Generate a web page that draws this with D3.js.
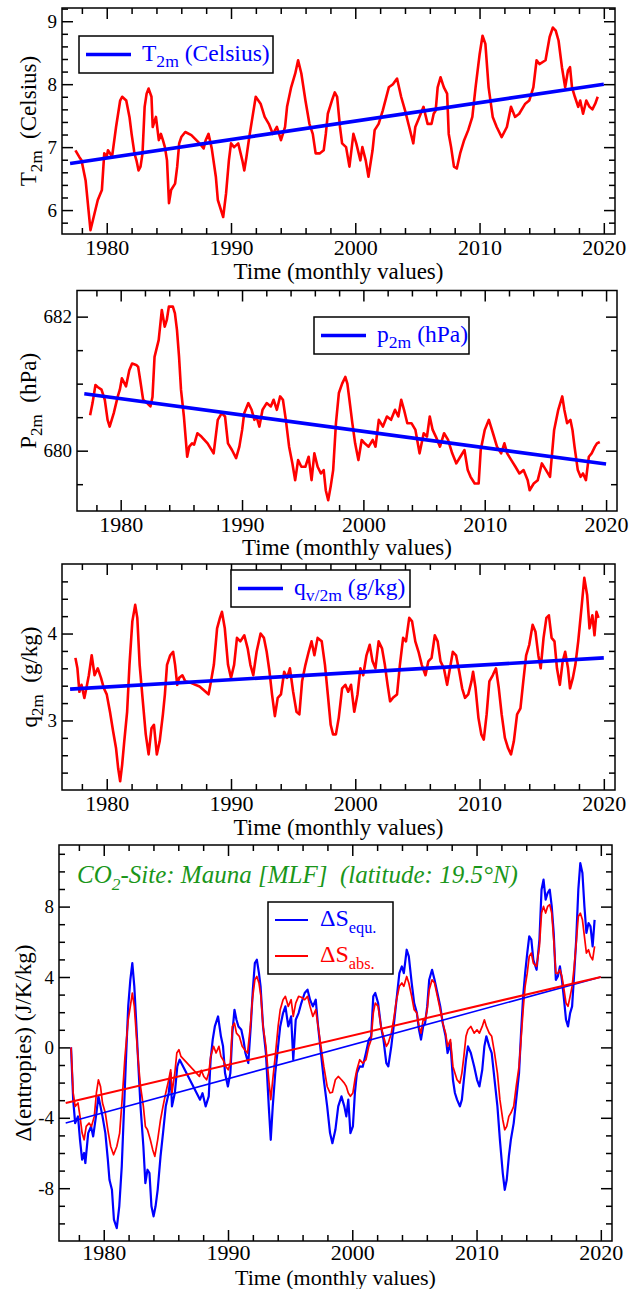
<!DOCTYPE html>
<html>
<head>
<meta charset="utf-8">
<script src="https://cdn.jsdelivr.net/npm/d3@7"></script>
<style>
  body { margin: 0; background: #fff; }
  text { font-family: "Liberation Serif", "Times New Roman", serif; white-space: pre; }
</style>
</head>
<body>
<svg id="chart" width="639" height="1289"></svg>
<script>
// ---- data (year, value) ----
var tempSeries = [[1977.48,6.95],[1977.8,6.84],[1977.97,6.79],[1978.3,6.47],[1978.69,5.68],[1979.28,6.16],[1979.61,6.32],[1979.8,6.9],[1980.0,6.85],[1980.1,6.95],[1980.43,6.85],[1980.75,7.32],[1981.08,7.74],[1981.24,7.8],[1981.57,7.74],[1981.83,7.48],[1982.0,7.21],[1982.23,6.9],[1982.39,6.79],[1982.56,6.63],[1982.72,6.69],[1982.88,6.9],[1983.05,7.64],[1983.21,7.85],[1983.37,7.93],[1983.6,7.8],[1983.7,7.32],[1983.96,7.48],[1984.19,7.11],[1984.36,7.21],[1984.52,7.11],[1984.68,7.0],[1984.85,6.79],[1985.01,6.11],[1985.18,6.32],[1985.5,6.42],[1985.67,6.69],[1985.83,7.06],[1986.0,7.16],[1986.32,7.24],[1986.81,7.19],[1987.47,7.06],[1987.8,6.98],[1987.96,7.11],[1988.19,7.21],[1988.45,6.98],[1988.78,6.53],[1988.94,6.16],[1989.27,5.95],[1989.37,5.89],[1989.6,6.26],[1989.83,6.79],[1990.0,7.06],[1990.25,7.0],[1990.58,7.06],[1990.91,6.79],[1991.07,6.63],[1991.24,6.84],[1991.47,7.16],[1991.73,7.48],[1991.99,7.8],[1992.38,7.69],[1992.71,7.48],[1993.04,7.37],[1993.37,7.21],[1993.69,7.32],[1994.02,7.11],[1994.35,7.32],[1994.51,7.64],[1994.84,7.95],[1995.17,8.17],[1995.4,8.38],[1995.66,8.17],[1995.99,7.74],[1996.31,7.37],[1996.58,7.21],[1996.81,6.9],[1997.13,6.9],[1997.46,6.95],[1997.63,7.21],[1997.79,7.53],[1998.12,7.74],[1998.35,7.87],[1998.54,7.8],[1998.77,7.32],[1998.94,7.06],[1999.26,7.0],[1999.53,6.69],[1999.85,7.21],[2000.08,7.06],[2000.41,6.79],[2000.57,7.0],[2000.84,6.79],[2001.06,6.53],[2001.39,6.95],[2001.56,7.27],[2001.88,7.37],[2002.21,7.58],[2002.7,7.95],[2003.03,8.0],[2003.36,8.09],[2003.69,7.8],[2004.01,7.58],[2004.34,7.32],[2004.67,7.06],[2004.83,7.32],[2005.16,7.48],[2005.49,7.64],[2005.82,7.37],[2006.14,7.37],[2006.31,7.53],[2006.47,7.58],[2006.63,7.95],[2006.86,8.11],[2007.13,7.95],[2007.39,7.85],[2007.52,7.21],[2007.71,7.0],[2007.94,6.69],[2008.17,6.66],[2008.44,6.9],[2008.76,7.11],[2009.09,7.27],[2009.42,7.48],[2009.68,7.95],[2010.01,8.48],[2010.24,8.77],[2010.47,8.64],[2010.73,7.95],[2011.06,7.48],[2011.38,7.32],[2011.78,7.16],[2012.2,7.32],[2012.53,7.64],[2012.86,7.48],[2013.19,7.53],[2013.68,7.69],[2014.0,7.74],[2014.33,7.95],[2014.59,8.38],[2014.82,8.32],[2015.31,8.38],[2015.64,8.75],[2015.9,8.9],[2016.13,8.85],[2016.36,8.69],[2016.63,8.27],[2016.89,7.95],[2017.12,8.22],[2017.28,8.27],[2017.44,7.95],[2017.67,7.8],[2017.94,7.64],[2018.1,7.74],[2018.33,7.53],[2018.59,7.74],[2018.85,7.64],[2019.08,7.6],[2019.31,7.69],[2019.51,7.8]];
var tempTrend = [[1977.05,6.74],[2020.0,8.0]];

var presSeries = [[1977.48,680.53],[1977.68,680.71],[1977.92,680.98],[1978.1,680.95],[1978.42,680.91],[1978.69,680.76],[1978.92,680.46],[1979.09,680.36],[1979.43,680.56],[1979.76,680.81],[1979.93,680.91],[1980.1,681.08],[1980.44,680.96],[1980.71,681.2],[1980.94,681.3],[1981.28,681.28],[1981.44,681.25],[1981.61,681.05],[1981.85,680.76],[1982.18,680.71],[1982.45,680.66],[1982.62,680.8],[1982.79,681.4],[1983.13,681.65],[1983.39,682.1],[1983.63,681.85],[1983.8,681.95],[1983.97,682.15],[1984.3,682.15],[1984.47,682.05],[1984.64,681.8],[1984.81,681.4],[1984.97,680.91],[1985.21,680.51],[1985.48,679.91],[1985.65,680.06],[1985.88,680.11],[1986.05,680.09],[1986.32,680.26],[1986.65,680.21],[1987.16,680.11],[1987.66,679.96],[1987.83,680.21],[1988.0,680.46],[1988.33,680.56],[1988.6,680.51],[1988.84,680.11],[1989.17,680.01],[1989.51,679.89],[1989.78,680.06],[1990.01,680.31],[1990.18,680.56],[1990.52,680.71],[1990.79,680.61],[1991.02,680.46],[1991.19,680.51],[1991.43,680.36],[1991.69,680.61],[1992.03,680.71],[1992.37,680.66],[1992.6,680.76],[1992.87,680.61],[1993.14,680.81],[1993.37,680.76],[1993.61,680.46],[1993.88,680.06],[1994.15,679.81],[1994.38,679.56],[1994.62,679.86],[1994.89,679.76],[1995.22,679.76],[1995.49,679.91],[1995.73,679.56],[1995.96,679.96],[1996.23,679.76],[1996.5,679.66],[1996.73,679.71],[1996.9,679.41],[1997.1,679.26],[1997.3,679.46],[1997.51,679.71],[1997.74,680.41],[1997.98,680.86],[1998.25,681.0],[1998.51,681.1],[1998.68,681.0],[1998.85,680.76],[1999.09,680.41],[1999.32,680.11],[1999.59,679.86],[1999.86,680.16],[2000.1,680.11],[2000.43,680.06],[2000.77,680.16],[2001.0,680.06],[2001.27,680.46],[2001.61,680.36],[2001.94,680.51],[2002.28,680.46],[2002.61,680.61],[2002.88,680.51],[2003.12,680.76],[2003.35,680.61],[2003.62,680.41],[2003.96,680.41],[2004.29,680.31],[2004.63,679.96],[2004.97,680.26],[2005.24,680.21],[2005.47,680.51],[2005.71,680.31],[2005.97,680.21],[2006.31,680.06],[2006.65,680.26],[2006.98,680.16],[2007.32,679.96],[2007.66,679.81],[2007.99,679.91],[2008.33,680.01],[2008.6,679.71],[2008.83,679.61],[2009.17,679.51],[2009.5,679.51],[2009.67,680.01],[2010.0,680.31],[2010.34,680.46],[2010.68,680.26],[2011.01,680.06],[2011.35,679.96],[2011.62,680.11],[2011.85,679.96],[2012.19,679.86],[2012.53,679.76],[2012.86,679.66],[2013.2,679.71],[2013.54,679.56],[2013.7,679.41],[2014.04,679.51],[2014.37,679.56],[2014.71,679.81],[2015.05,679.71],[2015.38,679.61],[2015.72,680.31],[2016.06,680.61],[2016.39,680.81],[2016.56,680.61],[2016.79,680.41],[2017.06,680.46],[2017.23,680.31],[2017.4,680.06],[2017.67,679.71],[2017.9,679.61],[2018.1,679.66],[2018.34,679.56],[2018.58,679.91],[2018.81,679.96],[2019.08,680.06],[2019.25,680.11],[2019.48,680.13]];
var presTrend = [[1977.0,680.85],[2020.0,679.80]];

var humSeries = [[1977.48,3.72],[1977.64,3.6],[1977.8,3.33],[1977.97,3.41],[1978.2,3.26],[1978.36,3.37],[1978.56,3.52],[1978.79,3.75],[1979.02,3.52],[1979.28,3.6],[1979.54,3.49],[1979.77,3.37],[1980.0,3.3],[1980.26,3.1],[1980.52,2.87],[1980.75,2.68],[1980.92,2.45],[1981.08,2.3],[1981.24,2.49],[1981.41,2.76],[1981.64,3.1],[1981.83,3.64],[1982.06,4.14],[1982.29,4.33],[1982.46,4.18],[1982.65,3.64],[1982.88,3.26],[1983.14,2.84],[1983.37,2.61],[1983.6,2.91],[1983.8,2.95],[1984.03,2.61],[1984.26,2.76],[1984.52,3.07],[1984.68,3.3],[1984.85,3.64],[1985.11,3.75],[1985.34,3.79],[1985.5,3.64],[1985.67,3.41],[1985.83,3.49],[1986.09,3.52],[1986.32,3.45],[1986.81,3.43],[1987.47,3.39],[1987.96,3.33],[1988.19,3.3],[1988.39,3.45],[1988.62,3.64],[1988.88,4.06],[1989.11,4.18],[1989.27,4.25],[1989.5,4.06],[1989.76,3.64],[1990.0,3.49],[1990.25,3.64],[1990.48,3.95],[1990.75,3.91],[1991.07,3.98],[1991.34,3.83],[1991.56,3.64],[1991.79,3.52],[1992.06,3.79],[1992.38,4.0],[1992.65,3.95],[1992.87,3.79],[1993.1,3.56],[1993.3,3.3],[1993.53,3.05],[1993.76,3.26],[1994.02,3.3],[1994.28,3.56],[1994.51,3.49],[1994.74,3.6],[1995.0,3.33],[1995.27,3.1],[1995.5,3.07],[1995.72,3.45],[1995.99,3.64],[1996.25,3.79],[1996.48,3.91],[1996.71,3.75],[1996.97,3.95],[1997.3,3.91],[1997.56,3.64],[1997.79,3.3],[1998.02,2.95],[1998.21,2.84],[1998.44,2.84],[1998.67,3.03],[1998.94,3.37],[1999.2,3.41],[1999.43,3.33],[1999.66,3.41],[1999.92,3.1],[2000.18,3.3],[2000.41,3.6],[2000.64,3.52],[2000.9,3.75],[2001.16,3.87],[2001.39,3.68],[2001.62,3.6],[2001.88,3.91],[2002.15,3.83],[2002.38,3.64],[2002.6,3.41],[2002.8,3.22],[2003.03,3.26],[2003.36,3.3],[2003.59,3.64],[2003.85,3.95],[2004.08,3.91],[2004.34,4.18],[2004.57,4.14],[2004.83,3.91],[2005.09,3.79],[2005.35,3.64],[2005.65,3.52],[2005.88,3.68],[2006.14,3.72],[2006.4,3.98],[2006.63,3.91],[2006.86,3.68],[2007.13,3.6],[2007.39,3.41],[2007.62,3.6],[2007.85,3.79],[2008.11,3.75],[2008.37,3.56],[2008.6,3.37],[2008.83,3.26],[2009.09,3.3],[2009.35,3.45],[2009.48,3.56],[2009.68,3.37],[2009.91,3.03],[2010.14,2.84],[2010.34,2.78],[2010.57,3.07],[2010.79,3.45],[2011.06,3.52],[2011.32,3.6],[2011.55,3.37],[2011.78,3.07],[2012.04,2.8],[2012.3,2.68],[2012.53,2.61],[2012.76,2.76],[2013.02,3.07],[2013.29,3.14],[2013.52,3.45],[2013.75,3.75],[2014.0,3.87],[2014.27,4.1],[2014.5,4.02],[2014.73,3.75],[2014.92,3.6],[2015.15,3.95],[2015.38,4.18],[2015.58,4.21],[2015.8,3.95],[2016.03,3.91],[2016.23,3.6],[2016.46,3.41],[2016.69,3.68],[2016.89,3.79],[2017.12,3.6],[2017.28,3.37],[2017.51,3.49],[2017.71,3.64],[2017.94,3.91],[2018.2,4.29],[2018.43,4.64],[2018.66,4.44],[2018.85,4.06],[2019.08,4.21],[2019.25,3.98],[2019.41,4.25],[2019.57,4.18]];
var humTrend = [[1977.05,3.36],[2020.0,3.72]];

var dsEquSeries = [[1977.37,0],[1977.54,-2.97],[1977.7,-4.3],[1977.93,-3.92],[1978.09,-5.25],[1978.26,-6.38],[1978.42,-6.0],[1978.52,-6.57],[1978.75,-4.87],[1978.98,-4.49],[1979.15,-5.06],[1979.41,-3.73],[1979.57,-2.78],[1979.74,-3.35],[1979.9,-3.92],[1980.13,-4.87],[1980.33,-6.38],[1980.46,-7.52],[1980.66,-8.09],[1980.82,-9.79],[1981.05,-10.27],[1981.25,-9.03],[1981.45,-6.76],[1981.64,-3.35],[1981.81,-0.32],[1981.97,2.33],[1982.14,3.84],[1982.3,4.79],[1982.46,3.47],[1982.63,1.19],[1982.79,-1.08],[1982.96,-3.35],[1983.19,-5.63],[1983.35,-7.71],[1983.52,-6.95],[1983.68,-7.14],[1983.84,-9.03],[1984.01,-9.6],[1984.17,-9.03],[1984.34,-8.09],[1984.57,-6.19],[1984.77,-4.87],[1984.99,-3.35],[1985.23,-2.59],[1985.39,-1.46],[1985.49,-3.35],[1985.72,-2.59],[1985.92,-1.08],[1986.11,-0.7],[1987.75,-2.97],[1987.95,-2.6],[1988.2,-3.35],[1988.45,-2.78],[1988.6,-0.7],[1988.77,0.44],[1988.94,1.19],[1989.2,1.76],[1989.43,0.63],[1989.6,0.06],[1989.76,-1.46],[1989.99,-2.22],[1990.19,-1.46],[1990.35,0.81],[1990.52,2.14],[1990.68,1.57],[1990.84,1.19],[1991.07,1.0],[1991.24,0.44],[1991.4,-0.32],[1991.63,-0.89],[1991.83,1.19],[1992.0,3.28],[1992.16,4.79],[1992.32,4.98],[1992.49,4.22],[1992.62,3.47],[1992.82,1.19],[1993.05,-0.32],[1993.28,-3.35],[1993.44,-5.25],[1993.6,-3.35],[1993.8,-1.46],[1994.03,0.06],[1994.2,1.19],[1994.43,1.95],[1994.62,2.33],[1994.85,1.19],[1995.08,1.76],[1995.25,-0.7],[1995.45,1.57],[1995.68,1.95],[1995.9,2.52],[1996.17,3.09],[1996.4,3.28],[1996.6,2.71],[1996.83,2.33],[1997.06,2.71],[1997.25,1.19],[1997.48,-0.32],[1997.71,-1.84],[1997.98,-3.35],[1998.21,-4.87],[1998.4,-5.44],[1998.64,-4.68],[1998.87,-3.35],[1999.13,-2.78],[1999.36,-3.35],[1999.52,-3.92],[1999.68,-2.97],[1999.85,-4.87],[2000.05,-4.49],[2000.21,-2.59],[2000.37,-1.46],[2000.6,-1.08],[2000.84,-1.1],[2001.1,-0.32],[2001.33,0.44],[2001.52,0.63],[2001.69,2.9],[2001.85,3.09],[2002.08,2.52],[2002.31,1.19],[2002.51,0.44],[2002.74,-0.89],[2002.9,-1.08],[2003.14,0.06],[2003.33,1.19],[2003.56,2.71],[2003.79,4.22],[2003.99,4.6],[2004.15,4.22],[2004.38,5.55],[2004.55,5.17],[2004.78,3.66],[2004.98,2.52],[2005.2,1.95],[2005.37,1.0],[2005.53,0.44],[2005.7,1.19],[2005.86,1.38],[2006.03,2.33],[2006.19,3.84],[2006.42,4.41],[2006.62,3.84],[2006.85,3.09],[2007.08,2.33],[2007.28,1.38],[2007.51,0.63],[2007.67,-0.32],[2007.9,0.25],[2008.1,-1.84],[2008.26,-2.59],[2008.43,-2.97],[2008.66,-3.35],[2008.82,-2.97],[2008.98,-1.84],[2009.15,-0.7],[2009.31,0.06],[2009.54,-0.32],[2009.81,-1.08],[2010.04,-1.84],[2010.23,-2.22],[2010.46,-1.27],[2010.63,0.06],[2010.79,0.63],[2011.02,0.06],[2011.22,-0.32],[2011.45,-1.84],[2011.68,-3.35],[2011.88,-5.25],[2012.11,-7.14],[2012.27,-8.09],[2012.43,-7.52],[2012.6,-6.19],[2012.76,-5.25],[2012.99,-4.3],[2013.19,-2.97],[2013.42,-1.46],[2013.58,0.81],[2013.75,2.9],[2013.91,4.22],[2014.08,5.36],[2014.24,6.31],[2014.41,6.12],[2014.57,4.98],[2014.83,4.41],[2015.06,6.12],[2015.23,8.96],[2015.39,9.53],[2015.56,8.39],[2015.72,8.77],[2015.89,8.96],[2016.05,8.01],[2016.21,6.5],[2016.38,3.84],[2016.54,4.03],[2016.71,4.6],[2016.87,3.84],[2017.04,2.71],[2017.2,1.57],[2017.36,1.19],[2017.53,1.95],[2017.69,2.33],[2017.86,4.22],[2018.02,6.12],[2018.19,8.96],[2018.35,10.47],[2018.52,9.91],[2018.68,8.01],[2018.84,6.5],[2019.01,7.06],[2019.17,6.88],[2019.34,5.74],[2019.5,7.25]];

var dsAbsSeries = [[1977.37,0],[1977.54,-2.59],[1977.7,-3.35],[1977.93,-3.16],[1978.09,-3.92],[1978.26,-4.87],[1978.42,-5.25],[1978.59,-4.49],[1978.82,-4.3],[1979.01,-4.49],[1979.24,-3.92],[1979.41,-2.59],[1979.57,-1.84],[1979.74,-2.22],[1979.9,-3.16],[1980.13,-3.73],[1980.33,-4.68],[1980.56,-5.63],[1980.79,-6.1],[1981.05,-5.63],[1981.28,-4.87],[1981.48,-2.97],[1981.71,-0.51],[1981.97,1.57],[1982.14,2.33],[1982.3,3.09],[1982.46,2.33],[1982.63,0.63],[1982.79,-0.89],[1982.96,-2.22],[1983.19,-3.35],[1983.35,-4.49],[1983.52,-4.68],[1983.75,-5.25],[1983.94,-5.81],[1984.11,-6.19],[1984.34,-5.25],[1984.57,-4.11],[1984.77,-3.35],[1984.99,-2.59],[1985.23,-1.84],[1985.39,-1.27],[1985.49,-2.59],[1985.72,-1.46],[1985.88,-0.32],[1986.05,-0.13],[1986.21,-0.51],[1987.7,-1.65],[1987.85,-1.3],[1988.05,-1.65],[1988.28,-1.84],[1988.45,-1.46],[1988.61,-0.51],[1988.84,0.06],[1989.04,-0.32],[1989.27,0.06],[1989.43,-0.51],[1989.6,-0.7],[1989.83,-1.08],[1990.02,-1.27],[1990.19,-0.89],[1990.35,1.19],[1990.52,1.38],[1990.68,0.81],[1990.91,0.63],[1991.14,0.06],[1991.34,-0.13],[1991.57,-0.32],[1991.8,1.19],[1991.96,2.71],[1992.16,3.84],[1992.32,4.03],[1992.49,3.66],[1992.65,2.9],[1992.82,1.19],[1993.05,0.06],[1993.28,-1.84],[1993.44,-2.97],[1993.6,-1.84],[1993.8,-0.51],[1994.03,1.19],[1994.2,2.14],[1994.43,2.71],[1994.62,2.9],[1994.85,2.33],[1995.08,2.71],[1995.25,1.76],[1995.45,2.52],[1995.68,2.9],[1995.9,2.85],[1996.17,2.71],[1996.4,2.9],[1996.6,2.33],[1996.83,1.76],[1997.06,2.14],[1997.25,1.19],[1997.48,0.06],[1997.71,-1.08],[1997.98,-2.22],[1998.21,-2.59],[1998.4,-2.55],[1998.64,-1.84],[1998.87,-1.65],[1999.13,-1.84],[1999.36,-2.03],[1999.52,-2.22],[1999.68,-2.59],[1999.85,-2.78],[2000.05,-2.59],[2000.21,-1.84],[2000.37,-1.27],[2000.6,-0.7],[2000.84,-0.89],[2001.1,-0.7],[2001.33,0.06],[2001.52,0.44],[2001.69,1.95],[2001.85,2.52],[2002.08,2.33],[2002.31,1.19],[2002.51,0.63],[2002.74,0.06],[2002.9,0.25],[2003.14,0.81],[2003.33,1.57],[2003.56,2.71],[2003.79,3.47],[2003.99,3.66],[2004.15,3.47],[2004.38,4.03],[2004.55,3.66],[2004.78,2.9],[2004.98,2.14],[2005.2,1.95],[2005.37,1.19],[2005.53,0.81],[2005.7,1.57],[2005.86,1.55],[2006.03,2.14],[2006.19,3.28],[2006.42,3.84],[2006.62,3.66],[2006.85,2.9],[2007.08,2.14],[2007.28,1.38],[2007.51,0.81],[2007.67,0.06],[2007.9,0.44],[2008.1,-1.08],[2008.26,-1.46],[2008.43,-1.84],[2008.66,-2.03],[2008.82,-1.46],[2008.98,-0.51],[2009.15,0.63],[2009.31,1.0],[2009.54,1.19],[2009.81,0.81],[2010.04,1.0],[2010.23,0.81],[2010.46,1.19],[2010.63,1.57],[2010.79,1.19],[2011.02,0.81],[2011.22,0.63],[2011.45,-0.32],[2011.68,-1.46],[2011.88,-2.97],[2012.11,-4.11],[2012.27,-4.68],[2012.43,-4.49],[2012.6,-3.92],[2012.76,-3.73],[2012.99,-3.35],[2013.19,-2.22],[2013.42,-1.08],[2013.58,0.44],[2013.75,2.14],[2013.91,3.47],[2014.08,4.22],[2014.24,5.17],[2014.41,5.36],[2014.57,4.79],[2014.83,4.6],[2015.06,5.74],[2015.23,7.63],[2015.39,8.01],[2015.56,7.63],[2015.72,8.01],[2015.89,8.11],[2016.05,7.63],[2016.21,6.12],[2016.38,4.22],[2016.54,4.2],[2016.71,4.41],[2016.87,4.03],[2017.04,3.28],[2017.2,2.52],[2017.36,2.33],[2017.53,2.9],[2017.69,3.47],[2017.86,4.6],[2018.02,5.93],[2018.19,7.44],[2018.35,7.63],[2018.52,7.25],[2018.68,6.31],[2018.84,5.36],[2019.01,5.55],[2019.17,5.17],[2019.34,4.98],[2019.5,5.74]];

var dsEquTrend = [[1976.94,-4.30],[2020.0,4.0]];
var dsAbsTrend = [[1976.94,-3.16],[2020.0,4.0]];

var xMajorTicks = [1980, 1990, 2000, 2010, 2020];
var xMinorTicks = [1978, 1982, 1984, 1986, 1988, 1992, 1994, 1996, 1998, 2002, 2004, 2006, 2008, 2012, 2014, 2016, 2018];
var xLabel = "Time (monthly values)";

// ---- layout ----
var svg = d3.select("#chart");
var RED = "#ff0000", BLUE = "#0000ff";
var xDomain = [1976.4, 2020.9];

var panels = [
  { l: 62, r: 615, t: 8, b: 234, yDom: [5.62, 9.21], yMajor: [6, 7, 8, 9], yMinor: d3.range(5.8, 9.21, 0.2),
    yTitle: [{t: "T"}, {t: "2m", sub: true}, {t: "  (Celsius)"}], yTitleX: 36, xTitleDy: 45, xPad: 5, xTitleSize: 23,
    lines: [{d: tempSeries, c: RED, w: 2.6}, {d: tempTrend, c: BLUE, w: 3.6}],
    legend: {x: 79, y: 36, w: 194, h: 37, items: [{c: BLUE, w: 3.6, parts: [{t: "T"}, {t: "2m", sub: true}, {t: " (Celsius)"}]}]} },
  { l: 77, r: 617, t: 290.5, b: 511, yDom: [679.1, 682.39], yMajor: [680, 682], yMinor: d3.range(679.5, 682.4, 0.5),
    yTitle: [{t: "P"}, {t: "2m", sub: true}, {t: "  (hPa)"}], yTitleX: 36, xTitleDy: 44, xPad: 5, xTitleSize: 23,
    lines: [{d: presSeries, c: RED, w: 2.6}, {d: presTrend, c: BLUE, w: 3.6}],
    legend: {x: 314, y: 317, w: 155, h: 37, items: [{c: BLUE, w: 3.6, parts: [{t: "p"}, {t: "2m", sub: true}, {t: " (hPa)"}]}]} },
  { l: 62, r: 615, t: 564, b: 790, yDom: [2.2, 4.8], yMajor: [3, 4], yMinor: d3.range(2.4, 4.8, 0.2),
    yTitle: [{t: "q"}, {t: "2m", sub: true}, {t: "  (g/kg)"}], yTitleX: 37, xTitleDy: 45, xPad: 5, xTitleSize: 23,
    lines: [{d: humSeries, c: RED, w: 2.6}, {d: humTrend, c: BLUE, w: 3.6}],
    legend: {x: 231, y: 570, w: 179, h: 37, items: [{c: BLUE, w: 3.6, parts: [{t: "q"}, {t: "v/2m", sub: true}, {t: " (g/kg)"}]}]} },
  { l: 59, r: 612, t: 845, b: 1241, yDom: [-11, 11.5], yMajor: [-8, -4, 0, 4, 8], yMinor: d3.range(-10, 11.1, 1),
    yTitle: [{t: "\u0394(entropies) (J/K/kg)"}], yTitleX: 31, xTitleDy: 43.5, xPad: 3, xTitleSize: 22,
    lines: [{d: dsEquSeries, c: BLUE, w: 2.2}, {d: dsAbsSeries, c: RED, w: 1.7},
            {d: dsEquTrend, c: BLUE, w: 1.6}, {d: dsAbsTrend, c: RED, w: 2}],
    legend: {x: 268, y: 902, w: 125, h: 72, items: [
      {c: BLUE, w: 2, parts: [{t: "\u0394S"}, {t: "equ.", sub: true}]},
      {c: RED, w: 2, parts: [{t: "\u0394S"}, {t: "abs.", sub: true}]}]} }
];

// text with subscripts
function richText(sel, parts, size, subScale) {
  var shifted = 0;
  parts.forEach(function(p) {
    var ts = sel.append("tspan").text(p.t);
    if (p.sub) {
      ts.attr("font-size", size * subScale).attr("dy", size * 0.28 - shifted);
      shifted = size * 0.28;
    } else {
      ts.attr("font-size", size).attr("dy", -shifted);
      shifted = 0;
    }
  });
}

function noDomain(s) { s.select(".domain").remove(); }
function plain(v) { return String(v); }   // keeps a plain hyphen for negatives

panels.forEach(function(p) {
  var x = d3.scaleLinear().domain(xDomain).range([p.l, p.r]);
  var y = d3.scaleLinear().domain(p.yDom).range([p.b, p.t]);
  var g = svg.append("g");
  var yMinorOnly = p.yMinor.filter(function(v) {
    return !p.yMajor.some(function(m) { return Math.abs(m - v) < 1e-6; });
  });

  var clipId = "clip" + Math.round(p.t);
  g.append("clipPath").attr("id", clipId).append("rect")
    .attr("x", p.l).attr("y", p.t).attr("width", p.r - p.l).attr("height", p.b - p.t);

  // major ticks on all four sides, pointing inward; labels bottom and left
  g.append("g").attr("class", "xl").attr("transform", "translate(0," + p.b + ")")
    .call(d3.axisBottom(x).tickValues(xMajorTicks).tickSize(-11).tickPadding(p.xPad).tickFormat(plain)).call(noDomain);
  g.append("g").attr("transform", "translate(0," + p.t + ")")
    .call(d3.axisTop(x).tickValues(xMajorTicks).tickSize(-11).tickFormat("")).call(noDomain);
  g.append("g").attr("class", "yl").attr("transform", "translate(" + p.l + ",0)")
    .call(d3.axisLeft(y).tickValues(p.yMajor).tickSize(-11).tickPadding(5).tickFormat(plain)).call(noDomain);
  g.append("g").attr("transform", "translate(" + p.r + ",0)")
    .call(d3.axisRight(y).tickValues(p.yMajor).tickSize(-11).tickFormat("")).call(noDomain);
  // minor ticks
  g.append("g").attr("transform", "translate(0," + p.b + ")")
    .call(d3.axisBottom(x).tickValues(xMinorTicks).tickSize(-6).tickFormat("")).call(noDomain);
  g.append("g").attr("transform", "translate(0," + p.t + ")")
    .call(d3.axisTop(x).tickValues(xMinorTicks).tickSize(-6).tickFormat("")).call(noDomain);
  g.append("g").attr("transform", "translate(" + p.l + ",0)")
    .call(d3.axisLeft(y).tickValues(yMinorOnly).tickSize(-6).tickFormat("")).call(noDomain);
  g.append("g").attr("transform", "translate(" + p.r + ",0)")
    .call(d3.axisRight(y).tickValues(yMinorOnly).tickSize(-6).tickFormat("")).call(noDomain);

  g.selectAll(".tick line").attr("stroke", "#000").attr("stroke-width", 1.5);
  g.selectAll(".tick text").attr("font-family", null).attr("fill", "#000");
  g.selectAll(".xl .tick text").attr("font-size", 22);
  g.selectAll(".yl .tick text").attr("font-size", 19);

  // data lines
  var line = d3.line().x(function(d) { return x(d[0]); }).y(function(d) { return y(d[1]); });
  p.lines.forEach(function(s) {
    g.append("path").datum(s.d).attr("d", line)
      .attr("clip-path", "url(#" + clipId + ")")
      .attr("fill", "none").attr("stroke", s.c).attr("stroke-width", s.w)
      .attr("stroke-linejoin", "round");
  });

  // frame
  g.append("rect").attr("x", p.l).attr("y", p.t).attr("width", p.r - p.l).attr("height", p.b - p.t)
    .attr("fill", "none").attr("stroke", "#000").attr("stroke-width", 1.5);

  // axis titles
  g.append("text").attr("x", (p.l + p.r) / 2).attr("y", p.b + p.xTitleDy)
    .attr("text-anchor", "middle").attr("font-size", p.xTitleSize).text(xLabel);
  var yt = g.append("text")
    .attr("transform", "translate(" + p.yTitleX + "," + ((p.t + p.b) / 2) + ") rotate(-90)")
    .attr("text-anchor", "middle");
  richText(yt, p.yTitle, 23, 0.74);

  // legend
  var L = p.legend;
  g.append("rect").attr("x", L.x).attr("y", L.y).attr("width", L.w).attr("height", L.h)
    .attr("fill", "#fff").attr("stroke", "#000").attr("stroke-width", 1.5);
  var rowH = L.h / L.items.length;
  L.items.forEach(function(it, i) {
    var cy = L.y + rowH * (i + 0.5);
    var two = L.items.length > 1;
    g.append("line").attr("x1", L.x + 7).attr("x2", L.x + (two ? 40 : 52))
      .attr("y1", cy).attr("y2", cy).attr("stroke", it.c).attr("stroke-width", it.w);
    var tx = g.append("text").attr("x", L.x + (two ? 52 : 63)).attr("y", cy + 6).attr("fill", it.c);
    richText(tx, it.parts, two ? 24 : 23.5, two ? 0.68 : 0.75);
  });
});

// site caption in the last panel
var cap = svg.append("text").attr("x", 77).attr("y", 883)
  .attr("fill", "#1a961a").attr("font-style", "italic");
richText(cap, [{t: "CO"}, {t: "2", sub: true}, {t: "-Site: Mauna [MLF]  (latitude: 19.5\u00b0N)"}], 25, 0.7);
</script>
</body>
</html>
